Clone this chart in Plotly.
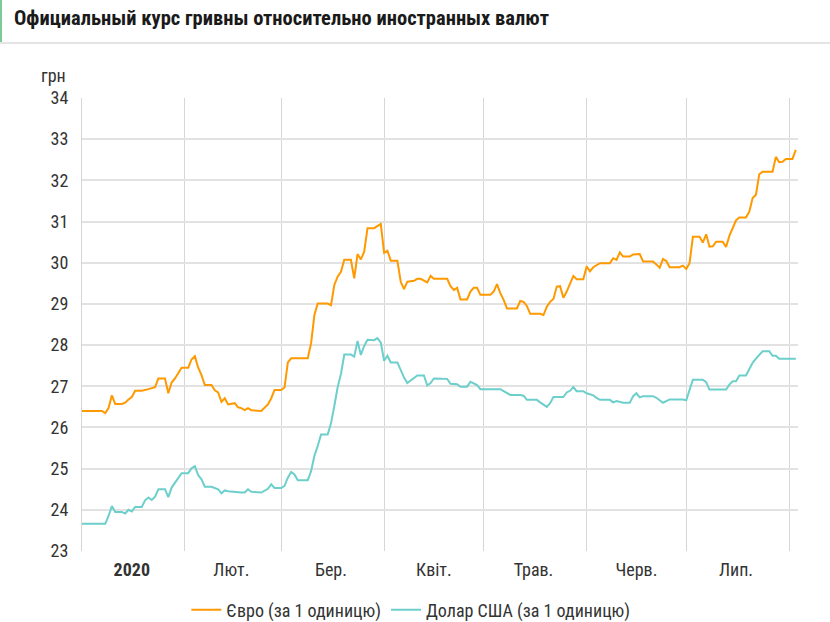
import plotly.graph_objects as go

W, H = 830, 622

eur_dates = [
    "2020-01-01", "2020-01-07", "2020-01-08", "2020-01-09", "2020-01-10", "2020-01-11", "2020-01-13",
    "2020-01-14", "2020-01-15", "2020-01-16", "2020-01-17", "2020-01-19", "2020-01-21", "2020-01-23",
    "2020-01-24", "2020-01-26", "2020-01-27", "2020-01-28", "2020-01-29", "2020-01-30", "2020-01-31",
    "2020-02-02", "2020-02-03", "2020-02-04", "2020-02-05", "2020-02-06", "2020-02-07", "2020-02-09",
    "2020-02-10", "2020-02-11", "2020-02-12", "2020-02-13", "2020-02-14", "2020-02-16", "2020-02-17",
    "2020-02-18", "2020-02-19", "2020-02-20", "2020-02-21", "2020-02-24", "2020-02-26", "2020-02-27",
    "2020-02-28", "2020-03-01", "2020-03-02", "2020-03-03", "2020-03-04", "2020-03-09", "2020-03-10",
    "2020-03-11", "2020-03-12", "2020-03-15", "2020-03-16", "2020-03-17", "2020-03-18", "2020-03-19",
    "2020-03-20", "2020-03-22", "2020-03-23", "2020-03-24", "2020-03-25", "2020-03-26", "2020-03-27",
    "2020-03-29", "2020-03-30", "2020-03-31", "2020-04-01", "2020-04-02", "2020-04-03", "2020-04-05",
    "2020-04-06", "2020-04-07", "2020-04-08", "2020-04-10", "2020-04-11", "2020-04-12", "2020-04-14",
    "2020-04-15", "2020-04-16", "2020-04-20", "2020-04-21", "2020-04-22", "2020-04-23", "2020-04-24",
    "2020-04-26", "2020-04-27", "2020-04-28", "2020-04-29", "2020-04-30", "2020-05-03", "2020-05-04",
    "2020-05-05", "2020-05-06", "2020-05-07", "2020-05-08", "2020-05-11", "2020-05-12", "2020-05-13",
    "2020-05-14", "2020-05-15", "2020-05-18", "2020-05-19", "2020-05-20", "2020-05-21", "2020-05-22",
    "2020-05-23", "2020-05-24", "2020-05-25", "2020-05-26", "2020-05-27", "2020-05-28", "2020-05-29",
    "2020-05-31", "2020-06-01", "2020-06-02", "2020-06-03", "2020-06-05", "2020-06-08", "2020-06-09",
    "2020-06-10", "2020-06-11", "2020-06-12", "2020-06-14", "2020-06-15", "2020-06-17", "2020-06-18",
    "2020-06-21", "2020-06-22", "2020-06-23", "2020-06-24", "2020-06-25", "2020-06-26", "2020-06-29",
    "2020-06-30", "2020-07-01", "2020-07-02", "2020-07-03", "2020-07-05", "2020-07-06", "2020-07-07",
    "2020-07-08", "2020-07-09", "2020-07-10", "2020-07-12", "2020-07-13", "2020-07-14", "2020-07-15",
    "2020-07-16", "2020-07-17", "2020-07-19", "2020-07-20", "2020-07-21", "2020-07-22", "2020-07-23",
    "2020-07-24", "2020-07-27", "2020-07-28", "2020-07-29", "2020-07-30", "2020-07-31", "2020-08-02",
    "2020-08-03",
]
eur_values = [
    26.40, 26.40, 26.35, 26.47, 26.78, 26.57, 26.57,
    26.60, 26.68, 26.74, 26.89, 26.89, 26.93, 26.98,
    27.19, 27.19, 26.83, 27.09, 27.19, 27.31, 27.45,
    27.45, 27.65, 27.73, 27.45, 27.27, 27.03, 27.03,
    26.90, 26.85, 26.62, 26.71, 26.56, 26.59, 26.49,
    26.47, 26.42, 26.47, 26.42, 26.40, 26.56, 26.71,
    26.91, 26.91, 26.97, 27.58, 27.68, 27.68, 28.04,
    28.73, 29.01, 29.01, 28.97, 29.46, 29.66, 29.78,
    30.07, 30.07, 29.62, 30.21, 30.08, 30.27, 30.84,
    30.84, 30.88, 30.94, 30.24, 30.29, 30.05, 30.05,
    29.54, 29.36, 29.54, 29.56, 29.61, 29.61, 29.52,
    29.68, 29.61, 29.61, 29.43, 29.34, 29.39, 29.11,
    29.11, 29.30, 29.39, 29.39, 29.22, 29.22, 29.30,
    29.48, 29.26, 29.10, 28.89, 28.89, 29.07, 29.05,
    28.95, 28.76, 28.76, 28.73, 28.93, 29.05, 29.12,
    29.42, 29.43, 29.15, 29.30, 29.50, 29.68, 29.60,
    29.60, 29.91, 29.79, 29.89, 29.99, 29.99, 30.11,
    30.07, 30.25, 30.15, 30.15, 30.20, 30.21, 30.03,
    30.03, 29.96, 29.88, 30.09, 30.04, 29.89, 29.89,
    29.93, 29.85, 29.99, 30.63, 30.63, 30.49, 30.69,
    30.39, 30.40, 30.51, 30.51, 30.38, 30.65, 30.83,
    31.03, 31.10, 31.10, 31.24, 31.57, 31.65, 32.15,
    32.21, 32.21, 32.57, 32.44, 32.45, 32.52, 32.52,
    32.74,
]

usd_dates = [
    "2020-01-01", "2020-01-08", "2020-01-09", "2020-01-10", "2020-01-11", "2020-01-13", "2020-01-14",
    "2020-01-15", "2020-01-16", "2020-01-17", "2020-01-19", "2020-01-20", "2020-01-21", "2020-01-22",
    "2020-01-23", "2020-01-24", "2020-01-26", "2020-01-27", "2020-01-28", "2020-01-29", "2020-01-30",
    "2020-01-31", "2020-02-02", "2020-02-03", "2020-02-04", "2020-02-05", "2020-02-06", "2020-02-07",
    "2020-02-09", "2020-02-10", "2020-02-11", "2020-02-12", "2020-02-13", "2020-02-14", "2020-02-16",
    "2020-02-18", "2020-02-19", "2020-02-20", "2020-02-21", "2020-02-24", "2020-02-26", "2020-02-27",
    "2020-02-28", "2020-03-01", "2020-03-02", "2020-03-03", "2020-03-04", "2020-03-05", "2020-03-06",
    "2020-03-09", "2020-03-10", "2020-03-11", "2020-03-12", "2020-03-13", "2020-03-15", "2020-03-16",
    "2020-03-17", "2020-03-18", "2020-03-19", "2020-03-20", "2020-03-22", "2020-03-23", "2020-03-24",
    "2020-03-25", "2020-03-26", "2020-03-27", "2020-03-29", "2020-03-30", "2020-03-31", "2020-04-01",
    "2020-04-02", "2020-04-03", "2020-04-05", "2020-04-06", "2020-04-07", "2020-04-08", "2020-04-10",
    "2020-04-11", "2020-04-13", "2020-04-14", "2020-04-15", "2020-04-16", "2020-04-20", "2020-04-21",
    "2020-04-23", "2020-04-24", "2020-04-26", "2020-04-27", "2020-04-29", "2020-04-30", "2020-05-06",
    "2020-05-08", "2020-05-09", "2020-05-12", "2020-05-13", "2020-05-14", "2020-05-17", "2020-05-18",
    "2020-05-19", "2020-05-20", "2020-05-21", "2020-05-22", "2020-05-25", "2020-05-26", "2020-05-27",
    "2020-05-28", "2020-05-29", "2020-05-31", "2020-06-01", "2020-06-03", "2020-06-04", "2020-06-05",
    "2020-06-08", "2020-06-09", "2020-06-10", "2020-06-12", "2020-06-14", "2020-06-15", "2020-06-16",
    "2020-06-17", "2020-06-18", "2020-06-21", "2020-06-22", "2020-06-24", "2020-06-26", "2020-06-30",
    "2020-07-01", "2020-07-02", "2020-07-03", "2020-07-06", "2020-07-07", "2020-07-08", "2020-07-13",
    "2020-07-14", "2020-07-15", "2020-07-16", "2020-07-17", "2020-07-19", "2020-07-20", "2020-07-21",
    "2020-07-22", "2020-07-24", "2020-07-26", "2020-07-27", "2020-07-28", "2020-07-29", "2020-08-03",
]
usd_values = [
    23.66, 23.66, 23.85, 24.09, 23.95, 23.95, 23.91,
    24.00, 23.96, 24.07, 24.07, 24.23, 24.30, 24.24,
    24.32, 24.50, 24.50, 24.31, 24.54, 24.66, 24.80,
    24.89, 24.89, 25.01, 25.06, 24.84, 24.74, 24.56,
    24.56, 24.53, 24.50, 24.40, 24.47, 24.45, 24.43,
    24.42, 24.42, 24.50, 24.44, 24.42, 24.51, 24.62,
    24.53, 24.53, 24.58, 24.78, 24.92, 24.86, 24.72,
    24.72, 24.94, 25.31, 25.55, 25.83, 25.83, 26.10,
    26.52, 26.98, 27.30, 27.77, 27.77, 27.72, 28.10,
    27.76, 27.98, 28.13, 28.12, 28.17, 28.06, 27.62,
    27.74, 27.58, 27.58, 27.37, 27.21, 27.08, 27.21,
    27.26, 27.26, 27.02, 27.08, 27.19, 27.18, 27.06,
    27.05, 26.99, 26.99, 27.11, 27.03, 26.93, 26.93,
    26.84, 26.79, 26.79, 26.77, 26.67, 26.67, 26.61,
    26.56, 26.50, 26.59, 26.74, 26.74, 26.85, 26.89,
    26.98, 26.88, 26.88, 26.83, 26.78, 26.72, 26.67,
    26.67, 26.61, 26.64, 26.60, 26.60, 26.76, 26.83,
    26.73, 26.76, 26.76, 26.72, 26.60, 26.68, 26.68,
    26.66, 26.92, 27.16, 27.16, 27.10, 26.92, 26.92,
    27.04, 27.12, 27.12, 27.26, 27.26, 27.41, 27.57,
    27.67, 27.85, 27.85, 27.74, 27.74, 27.67, 27.67,
]

series_names = ["Євро (за 1 одиницю)", "Долар США (за 1 одиницю)"]
series_colors = ["#ff9900", "#6ccfcb"]

month_label_dates = ["2020-01-16", "2020-02-15", "2020-03-16", "2020-04-16",
                     "2020-05-16", "2020-06-16", "2020-07-16"]
month_labels = ["<b>2020</b>", "Лют.", "Бер.", "Квіт.", "Трав.", "Черв.", "Лип."]

title_text = "<b>Официальный курс гривны относительно иностранных валют</b>"
unit_text = "грн"

FONT = "Liberation Sans Narrow, Roboto Condensed, Arial Narrow, Roboto, sans-serif"

fig = go.Figure()
fig.add_trace(go.Scatter(x=eur_dates, y=eur_values, mode="lines", name=series_names[0],
                         line=dict(color=series_colors[0], width=2)))
fig.add_trace(go.Scatter(x=usd_dates, y=usd_values, mode="lines", name=series_names[1],
                         line=dict(color=series_colors[1], width=2)))

fig.update_layout(
    width=W, height=H,
    margin=dict(l=0, r=0, t=0, b=0, autoexpand=False),
    paper_bgcolor="white", plot_bgcolor="white",
    font=dict(family=FONT, size=18, color="#333333"),
    showlegend=True,
    legend=dict(orientation="h", x=0.495, xanchor="center", y=1 - 610 / H, yanchor="middle",
                font=dict(size=18, color="#333333"), itemwidth=30, tracegroupgap=0),
    xaxis=dict(
        domain=[82 / W, 798 / W],
        type="date", automargin=False,
        range=["2020-01-01", "2020-08-03 16:00"],
        tickmode="array", tickvals=month_label_dates, ticktext=month_labels,
        showgrid=False, ticks="", zeroline=False, showline=False,
        tickfont=dict(size=18, color="#333333"),
        ticklabelstandoff=6,
        minor=dict(tick0="2020-01-01", dtick="M1", showgrid=True, gridcolor="#d6d6d6",
                   gridwidth=1, ticks=""),
    ),
    yaxis=dict(
        domain=[1 - 551 / H, 1 - 98 / H],
        automargin=False,
        range=[23, 34], dtick=1, tick0=23,
        showgrid=True, gridcolor="#e2e2e2", gridwidth=1.5,
        zeroline=False, showline=True, linecolor="#d6d6d6", linewidth=1,
        ticks="", tickfont=dict(size=18, color="#333333"),
        ticklabelstandoff=9,
    ),
    shapes=[
        dict(type="rect", xref="paper", yref="paper", x0=0, x1=1, y0=1 - 44 / H, y1=1 - 42 / H,
             fillcolor="#e4e4e4", line=dict(width=0), layer="above"),
        dict(type="rect", xref="paper", yref="paper", x0=0, x1=2 / W, y0=1 - 42 / H, y1=1,
             fillcolor="#7cc99a", line=dict(width=0), layer="above"),
    ],
    annotations=[
        dict(text=title_text, xref="paper", yref="paper", x=12 / W, y=1 - 18 / H,
             xanchor="left", yanchor="middle", showarrow=False,
             font=dict(size=20.5, color="#1a1a1a", family=FONT)),
        dict(text=unit_text, xref="paper", yref="paper", x=53 / W, y=1 - 75 / H,
             xanchor="center", yanchor="middle", showarrow=False,
             font=dict(size=18, color="#333333", family=FONT)),
    ],
)

fig.write_html("out.html")
